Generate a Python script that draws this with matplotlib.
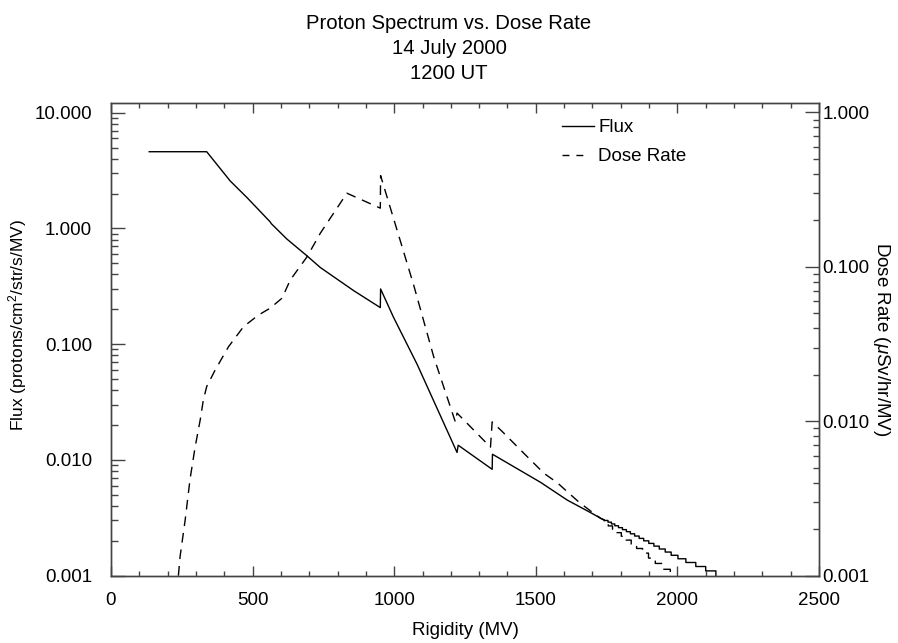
import numpy as np
import matplotlib
matplotlib.use("Agg")
import matplotlib.pyplot as plt
from matplotlib.ticker import FixedLocator, FormatStrFormatter, LogLocator, MultipleLocator, NullFormatter

plt.rcParams["font.family"] = ["Liberation Sans", "DejaVu Sans"]
plt.rcParams["mathtext.fontset"] = "custom"
plt.rcParams["mathtext.rm"] = "Liberation Sans"
plt.rcParams["mathtext.it"] = "Liberation Sans:italic"
plt.rcParams["lines.scale_dashes"] = False

# smooth part of the flux spectrum (MV, protons/cm2/str/s/MV)
flux_rig = [135, 338, 421, 480, 562, 566, 621, 692, 739, 857, 951, 952, 998,
            1081, 1222, 1226, 1346, 1347, 1517, 1611, 1694, 1743]
flux_val = [4.6, 4.6, 2.57, 1.85, 1.14, 1.10, 0.81, 0.58, 0.46, 0.29, 0.207, 0.30, 0.170,
            0.067, 0.0116, 0.0134, 0.0083, 0.0112, 0.0064, 0.0045, 0.0035, 0.0030]
# tail of the flux spectrum (values stored to 4 decimals -> staircase)
flux_tail_rig = [1743, 1755, 1767, 1779, 1792, 1806, 1820, 1834, 1849, 1865, 1881,
                 1899, 1917, 1936, 1957, 1978, 2002, 2030, 2065, 2100, 2136, 2136]
flux_tail_val = [0.0030, 0.0029, 0.0028, 0.0027, 0.0026, 0.0025, 0.0024, 0.0023, 0.0022, 0.0021, 0.0020,
                 0.0019, 0.0018, 0.0017, 0.0016, 0.0015, 0.0014, 0.0013, 0.0012, 0.0011, 0.0011, 0.0005]

# dose rate (uSv/hr/MV)
dose_rig = [238, 244, 262, 279, 297, 315, 326, 338, 368, 415, 468, 521, 562, 568, 604, 633,
            692, 739, 833, 951, 952, 1069, 1140, 1216, 1222, 1340, 1346, 1381, 1458, 1529,
            1576, 1611, 1652, 1688, 1729]
dose_val = [0.0010, 0.00133, 0.0023, 0.0042, 0.0068, 0.0102, 0.0137, 0.0168, 0.0215, 0.0304,
            0.041, 0.0488, 0.054, 0.0552, 0.0627, 0.0822, 0.116, 0.165, 0.30, 0.24, 0.39, 0.076,
            0.026, 0.0099, 0.0113, 0.0068, 0.0099, 0.0086, 0.0062, 0.0046, 0.0040, 0.0035,
            0.0030, 0.00267, 0.00235]
dose_tail_rig = [1729, 1742, 1756, 1771, 1786, 1802, 1819, 1837, 1856, 1877, 1898, 1922, 1947, 1975, 1985]
dose_tail_val = [0.0023, 0.0022, 0.0021, 0.0020, 0.0019, 0.0018, 0.0017, 0.0016, 0.0015, 0.0014,
                 0.0013, 0.0012, 0.0011, 0.0010, 0.0010]

flux_ticks = [0.001, 0.01, 0.1, 1.0, 10.0]
dose_ticks = [0.001, 0.01, 0.1, 1.0]


def steps_post(x, y):
    # expand to a post-step path so it can join the smooth part in one line
    xs, ys = [x[0]], [y[0]]
    for i in range(1, len(x)):
        xs += [x[i], x[i]]
        ys += [y[i - 1], y[i]]
    return xs, ys


fx, fy = steps_post(flux_tail_rig, flux_tail_val)
dx, dy = steps_post(dose_tail_rig, dose_tail_val)
flux_x = flux_rig + fx[1:]
flux_y = flux_val + fy[1:]
dose_x = dose_rig + dx[1:]
dose_y = dose_val + dy[1:]

fig = plt.figure(figsize=(8.98, 6.43), dpi=100)
ax = fig.add_axes([0.1236, 0.1047, 0.7884, 0.7356])
ax2 = ax.twinx()

axis_col = "#444444"
fs = 13.5
line_flux, = ax.plot(flux_x, flux_y, color="black", lw=1.0, label="Flux")
line_dose, = ax2.plot(dose_x, dose_y, color="black", lw=1.0, dashes=(7, 5), label="Dose Rate")

ax.set_xlim(0, 2500)
ax.set_yscale("log")
ax.set_ylim(0.001, 12.2)
ax2.set_yscale("log")
ax2.set_ylim(0.001, 1.157)

ax.xaxis.set_major_locator(MultipleLocator(500))
ax.xaxis.set_minor_locator(MultipleLocator(100))
ax.yaxis.set_major_locator(FixedLocator(flux_ticks))
ax.yaxis.set_major_formatter(FormatStrFormatter("%.3f"))
ax.yaxis.set_minor_locator(LogLocator(base=10, subs=np.arange(2, 10)))
ax.yaxis.set_minor_formatter(NullFormatter())
ax2.yaxis.set_major_locator(FixedLocator(dose_ticks))
ax2.yaxis.set_major_formatter(FormatStrFormatter("%.3f"))
ax2.yaxis.set_minor_locator(LogLocator(base=10, subs=np.arange(2, 10)))
ax2.yaxis.set_minor_formatter(NullFormatter())

for a in (ax, ax2):
    for s in a.spines.values():
        s.set_color(axis_col)
        s.set_linewidth(1.0)

ax.tick_params(axis="x", which="both", direction="in", top=True, bottom=True,
               color=axis_col, labelsize=fs, pad=12)
ax.tick_params(axis="x", which="major", length=7.5, width=1)
ax.tick_params(axis="x", which="minor", length=3.5, width=1)
ax.tick_params(axis="y", which="both", direction="in", left=True, right=False,
               color=axis_col, labelsize=fs, pad=13.5)
ax.tick_params(axis="y", which="major", length=10, width=1)
ax.tick_params(axis="y", which="minor", length=5, width=1)
ax2.tick_params(axis="y", which="both", direction="in", right=True, left=False,
                color=axis_col, labelsize=fs, pad=2.5)
ax2.tick_params(axis="y", which="major", length=10, width=1)
ax2.tick_params(axis="y", which="minor", length=4, width=1)

ax.set_xlabel("Rigidity (MV)", fontsize=fs, labelpad=9)
ax.set_ylabel(r"Flux (protons/cm$^{2}$/str/s/MV)", fontsize=12.5, labelpad=4, y=0.53)
ax2.set_ylabel(r"Dose Rate ($\mu$Sv/hr/MV)", fontsize=fs, rotation=270, labelpad=16)

fig.text(0.5, 0.978, "Proton Spectrum vs. Dose Rate\n14 July 2000\n1200 UT",
         ha="center", va="top", fontsize=14.6, linespacing=1.38)

leg = ax2.legend(handles=[line_flux, line_dose], loc="upper left",
                 bbox_to_anchor=(0.6366, 0.965), frameon=False, fontsize=fs,
                 handlelength=1.7, handletextpad=0.25, labelspacing=0.62,
                 borderpad=0, borderaxespad=0)
# two short dashes in the key, as in the original
leg.get_lines()[1].set_dashes((5, 5, 5, 20))

fig.savefig("out.png", dpi=100)
